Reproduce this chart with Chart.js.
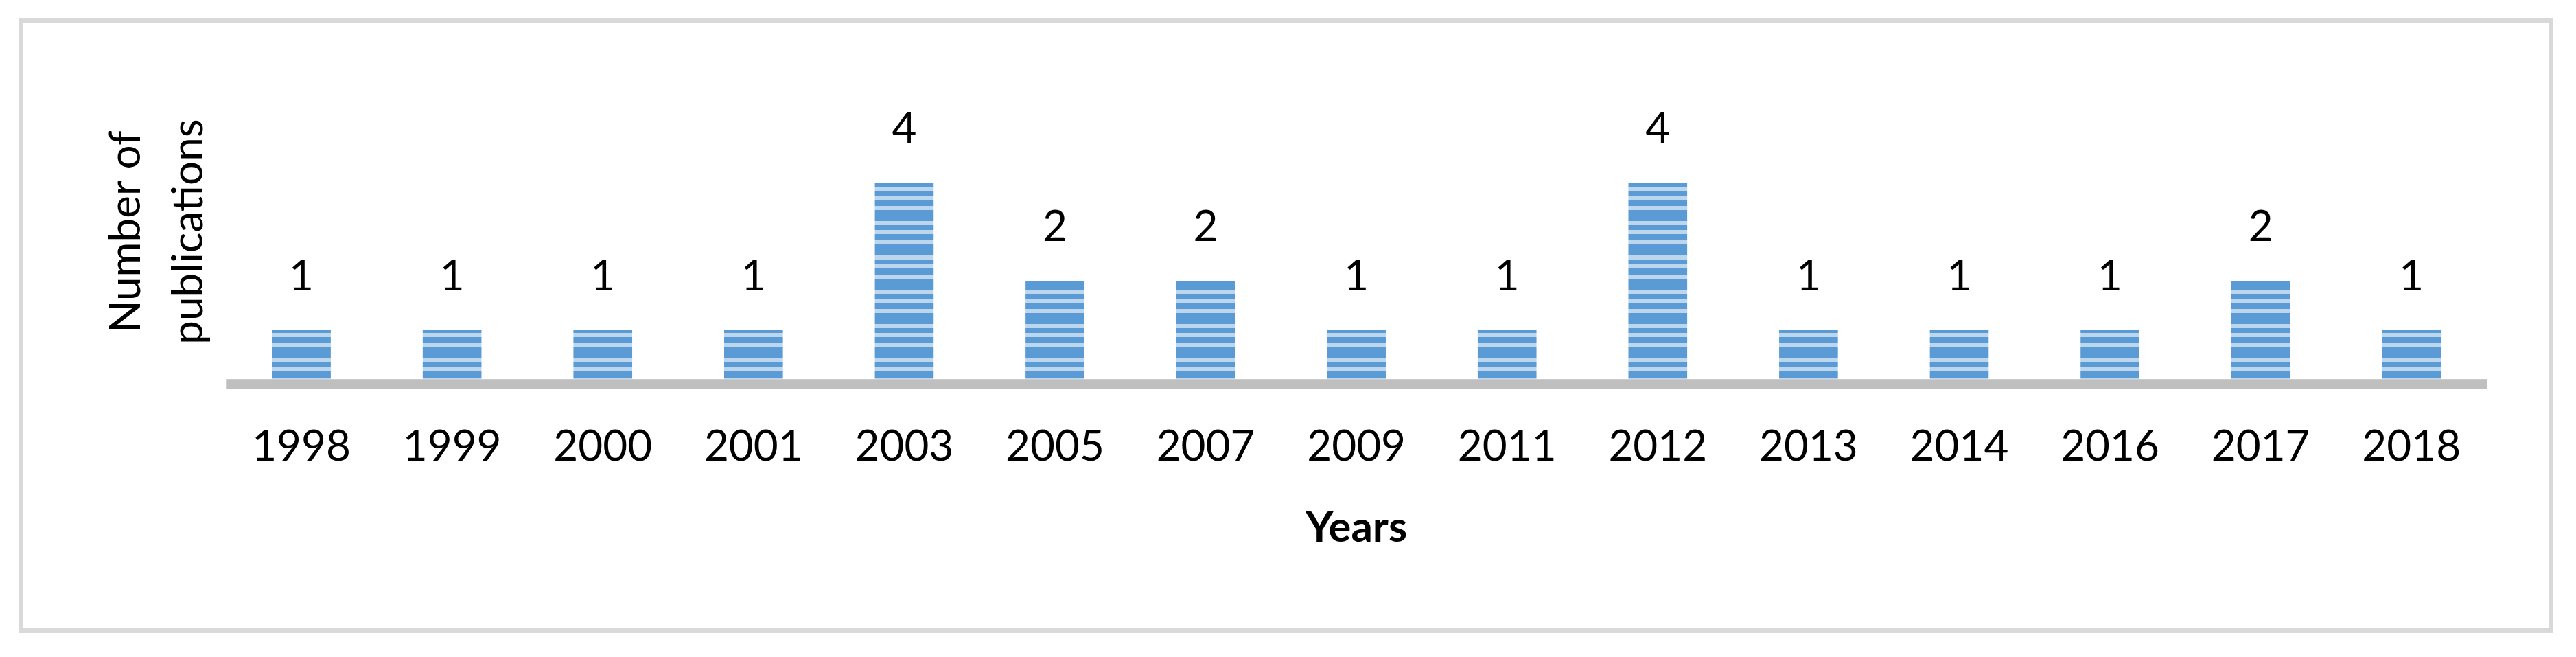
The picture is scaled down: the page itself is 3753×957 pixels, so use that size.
<!DOCTYPE html>
<html>
<head>
<meta charset="utf-8">
<script src="https://cdn.jsdelivr.net/npm/chart.js@4.4.1/dist/chart.umd.min.js"></script>
<style>
  body { margin: 0; background: #fff; }
  #frame {
    position: absolute; left: 27px; top: 26px;
    width: 3693px; height: 896px;
    box-sizing: border-box; border: 7px solid #d9d9d9;
  }
  #bar_chart { position: absolute; left: 0; top: 0; }
</style>
</head>
<body>
<div id="frame"></div>
<canvas id="bar_chart" width="3753" height="957"></canvas>
<script>
// data
var years = ['1998', '1999', '2000', '2001', '2003', '2005', '2007', '2009',
             '2011', '2012', '2013', '2014', '2016', '2017', '2018'];
var publications = [1, 1, 1, 1, 4, 2, 2, 1, 1, 4, 1, 1, 1, 2, 1];
var yTitle = ['Number of', 'publications'];
var xTitle = 'Years';

var FONT = 'Lato, "Open Sans", sans-serif';

// horizontal stripe fill like the original bars
function stripePattern() {
    var c = document.createElement('canvas');
    c.width = 8;
    c.height = 50;
    var g = c.getContext('2d');
    g.fillStyle = '#5b9bd5';
    g.fillRect(0, 0, 8, 50);
    g.fillStyle = '#bcd6ee';
    g.fillRect(0, 0, 8, 6);
    g.fillRect(0, 22, 8, 6);
    g.fillRect(0, 35, 8, 6);
    return g.createPattern(c, 'repeat');
}

// thick grey category axis line under the bars
var axisLine = {
    id: 'axisLine',
    beforeDatasetsDraw: function (chart) {
        var a = chart.chartArea;
        var ctx = chart.ctx;
        ctx.save();
        ctx.fillStyle = '#bfbfbf';
        ctx.fillRect(a.left, a.bottom, a.right - a.left, 14);
        ctx.restore();
    }
};

// value labels above every bar
var valueLabels = {
    id: 'valueLabels',
    afterDatasetsDraw: function (chart) {
        var ctx = chart.ctx;
        ctx.save();
        ctx.font = '62px ' + FONT;
        ctx.fillStyle = '#000';
        ctx.textAlign = 'center';
        ctx.textBaseline = 'alphabetic';
        chart.getDatasetMeta(0).data.forEach(function (bar, i) {
            ctx.fillText(String(publications[i]), bar.x, bar.y - 58);
        });
        ctx.restore();
    }
};

new Chart(document.getElementById('bar_chart').getContext('2d'), {
    type: 'bar',
    data: {
        labels: years,
        datasets: [{
            data: publications,
            backgroundColor: stripePattern(),
            borderWidth: 0,
            barPercentage: 0.39,
            categoryPercentage: 1
        }]
    },
    options: {
        responsive: false,
        animation: false,
        layout: { padding: { left: 138, right: 130, top: 123, bottom: 151 } },
        plugins: { legend: { display: false }, tooltip: { enabled: false } },
        scales: {
            x: {
                grid: { display: false, drawTicks: false },
                border: { display: false },
                ticks: { color: '#000', padding: 62, font: { family: FONT, size: 62 } },
                title: {
                    display: true, text: xTitle, color: '#000',
                    font: { family: FONT, size: 62, weight: 'bold' },
                    padding: { top: -19, bottom: 0 }
                }
            },
            y: {
                min: 0,
                max: 6,
                grid: { display: false, drawTicks: false },
                border: { display: false },
                ticks: { display: false },
                title: {
                    display: true, text: yTitle, color: '#000',
                    font: { family: FONT, size: 62, lineHeight: 1.47 },
                    padding: { top: 0, bottom: 9 }
                }
            }
        }
    },
    plugins: [axisLine, valueLabels]
});
</script>
</body>
</html>
